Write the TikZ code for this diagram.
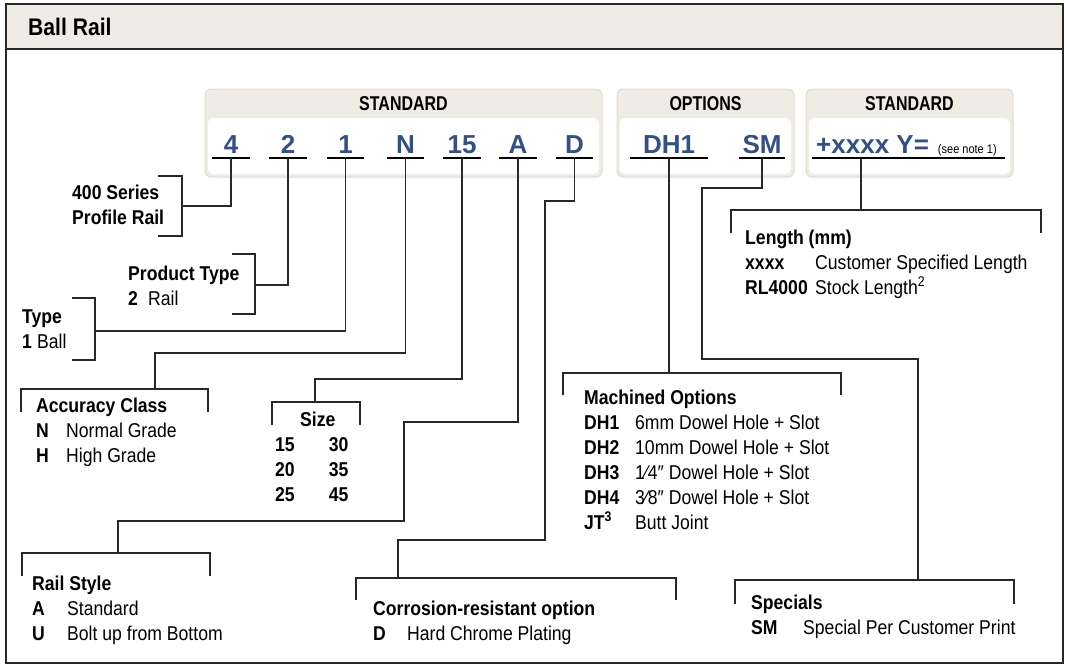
\documentclass[tikz,border=0pt]{standalone}
\usepackage{fontspec}
\setmainfont{Liberation Sans}[FakeStretch=0.88]
\newfontfamily\codefont{Liberation Sans}
\newfontfamily\headfont{Liberation Sans}[FakeStretch=0.8]
\usetikzlibrary{positioning}
\definecolor{colbeige}{RGB}{239,235,229}
\definecolor{coledge}{RGB}{226,219,208}
\definecolor{colcode}{RGB}{50,79,136}
\definecolor{colline}{RGB}{40,40,40}
\newcommand{\descfont}{\fontsize{20}{25}\selectfont}
\tikzset{%
      frame/.style = { draw=colline, line width=2pt },
       conn/.style = { draw=colline, line width=1.3pt },
      uline/.style = { draw=black, line width=2.4pt },
    codebox/.style = { rounded corners=6pt, fill=colbeige, draw=coledge, line width=1pt },
  codefield/.style = { rounded corners=5pt, fill=white },
   titletxt/.style = { anchor=base west, inner sep=0pt, font=\fontsize{24}{24}\selectfont\bfseries },
       head/.style = { inner sep=0pt, font=\headfont\fontsize{20}{20}\selectfont\bfseries },
       code/.style = { anchor=base, inner sep=0pt, text depth=5pt, text=colcode, font=\codefont\fontsize{26}{26}\selectfont\bfseries },
       desc/.style = { anchor=base west, inner sep=0pt, font=\descfont }
}
\begin{document}
\begin{tikzpicture}[x=1pt,y=-1pt]
  \useasboundingbox (0,0) rectangle (1067,664);

  % frame and title band
  \fill[colbeige] (6,4) rectangle (1063,49);
  \draw[colline, line width=1.5pt] (6,49) -- (1063,49);
  \draw[frame] (6,4) rectangle (1063,663);
  \node[titletxt] (ttl) at (28,35) {Ball Rail};

  % code boxes
  \draw[codebox] (205,89) rectangle (602,177);
  \fill[codefield] (208,118) rectangle (599,174);
  \draw[codebox] (617,89) rectangle (794,177);
  \fill[codefield] (620,118) rectangle (791,174);
  \draw[codebox] (806,89) rectangle (1013,177);
  \fill[codefield] (809,118) rectangle (1010,174);
  \node[head] (hstd) at (403.5,104) {STANDARD};
  \node[head] (hopt) at (705.5,104) {OPTIONS};
  \node[head] (hlen) at (909.5,104) {STANDARD};

  % code letters with underlines
  \foreach \nm/\txt/\xx/\ww in {c4/4/231/38, c2/2/288/37, c1/1/345.5/37, cN/N/405.5/37,
      c15/15/462/38, cA/A/518/38, cD/D/574.5/37, cDH/DH1/669/78, cSM/SM/762/46}
  {
    \node[code, minimum width=\ww] (\nm) at (\xx,153) {\txt};
    \draw[uline] (\nm.south west) -- (\nm.south east);
  }
  \node[code, anchor=base west] (cLen) at (816,153) {+xxxx Y=\hspace{9pt}{\normalfont\fontsize{12.5}{12.5}\selectfont\color{black}(see note 1)}};
  \draw[uline] (812,158) -- (1005,158);
  \coordinate (lenT) at (861,158);

  % descriptions
  \node[desc, font=\descfont\bfseries] (ser) at (72,199) {\begin{tabular}[t]{@{}l@{}}400 Series\\Profile Rail\end{tabular}};
  \node[desc] (prod) at (128,280) {\begin{tabular}[t]{@{}p{20pt}@{}l@{}}
    \multicolumn{2}{@{}l@{}}{\textbf{Product Type}}\\
    \textbf{2} & Rail\end{tabular}};
  \node[desc] (type) at (22,323) {\begin{tabular}[t]{@{}p{15pt}@{}l@{}}
    \multicolumn{2}{@{}l@{}}{\textbf{Type}}\\
    \textbf{1} & Ball\end{tabular}};
  \node[desc] (acc) at (36,412) {\begin{tabular}[t]{@{}p{30pt}@{}l@{}}
    \multicolumn{2}{@{}l@{}}{\textbf{Accuracy Class}}\\
    \textbf{N} & Normal Grade\\
    \textbf{H} & High Grade\end{tabular}};
  \node[desc, font=\descfont\bfseries] (size) at (275,426) {\begin{tabular}[t]{@{}c@{\hspace{34pt}}c@{}}
    \multicolumn{2}{@{}c@{}}{\hspace{12pt}Size}\\
    15 & 30\\ 20 & 35\\ 25 & 45\end{tabular}};
  \node[desc] (rail) at (32,590) {\begin{tabular}[t]{@{}p{35pt}@{}l@{}}
    \multicolumn{2}{@{}l@{}}{\textbf{Rail Style}}\\
    \textbf{A} & Standard\\
    \textbf{U} & Bolt up from Bottom\end{tabular}};
  \node[desc] (corr) at (373,615) {\begin{tabular}[t]{@{}p{34pt}@{}l@{}}
    \multicolumn{2}{@{}l@{}}{\textbf{Corrosion-resistant option}}\\
    \textbf{D} & Hard Chrome Plating\end{tabular}};
  \node[desc] (mach) at (584,404) {\begin{tabular}[t]{@{}p{51pt}@{}l@{}}
    \multicolumn{2}{@{}l@{}}{\textbf{Machined Options}}\\
    \textbf{DH1} & 6mm Dowel Hole + Slot\\
    \textbf{DH2} & 10mm Dowel Hole + Slot\\
    \textbf{DH3} & 1⁄4″ Dowel Hole + Slot\\
    \textbf{DH4} & 3⁄8″ Dowel Hole + Slot\\
    \textbf{JT\textsuperscript{3}} & Butt Joint\end{tabular}};
  \node[desc] (len) at (745,244) {\begin{tabular}[t]{@{}p{70pt}@{}l@{}}
    \multicolumn{2}{@{}l@{}}{\textbf{Length (mm)}}\\
    \textbf{xxxx} & Customer Specified Length\\
    \textbf{RL4000} & Stock Length\textsuperscript{2}\end{tabular}};
  \node[desc] (spec) at (751,609) {\begin{tabular}[t]{@{}p{52pt}@{}l@{}}
    \multicolumn{2}{@{}l@{}}{\textbf{Specials}}\\
    \textbf{SM} & Special Per Customer Print\end{tabular}};

  % bracket ends of the connectors
  \coordinate (serB)  at (182,206);
  \coordinate (prodB) at (255,285);
  \coordinate (typeB) at (95,331);
  \coordinate (accB)  at (155,389);
  \coordinate (sizeB) at (315,402);
  \coordinate (railB) at (118,553);
  \coordinate (corrB) at (398,578);
  \coordinate (machB) at (669,373);
  \coordinate (specB) at (918,580);
  \coordinate (lenB)  at (861,210);

  % brackets
  \draw[conn] (158,176) -| (182,236) -- (158,236);
  \draw[conn] (232,254) -| (255,314) -- (232,314);
  \draw[conn] (72,298) -| (95,360) -- (72,360);
  \draw[conn] (21,412) |- (208,389) -- (208,412);
  \draw[conn] (272,425) |- (360,402) -- (360,425);
  \draw[conn] (22,576) |- (210,553) -- (210,576);
  \draw[conn] (356,600) |- (676,578) -- (676,600);
  \draw[conn] (563,395) |- (841,373) -- (841,395);
  \draw[conn] (735,604) |- (1014,580) -- (1014,604);
  \draw[conn] (731,233) |- (1041,210) -- (1041,233);

  % connectors
  \draw[conn] (c4.south) |- (serB);
  \draw[conn] (c2.south) |- (prodB);
  \draw[conn] (c1.south) |- (typeB);
  \draw[conn] (cN.south) |- (155,353) -- (accB);
  \draw[conn] (c15.south) |- (315,379) -- (sizeB);
  \draw[conn] (cA.south) |- (404,422) |- (118,521) -- (railB);
  \draw[conn] (cD.south) |- (545,201) |- (398,540) -- (corrB);
  \draw[conn] (cDH.south) -- (machB);
  \draw[conn] (cSM.south) |- (702,188) |- (918,359) -- (specB);
  \draw[conn] (lenT) -- (lenB);

\end{tikzpicture}
\end{document}
